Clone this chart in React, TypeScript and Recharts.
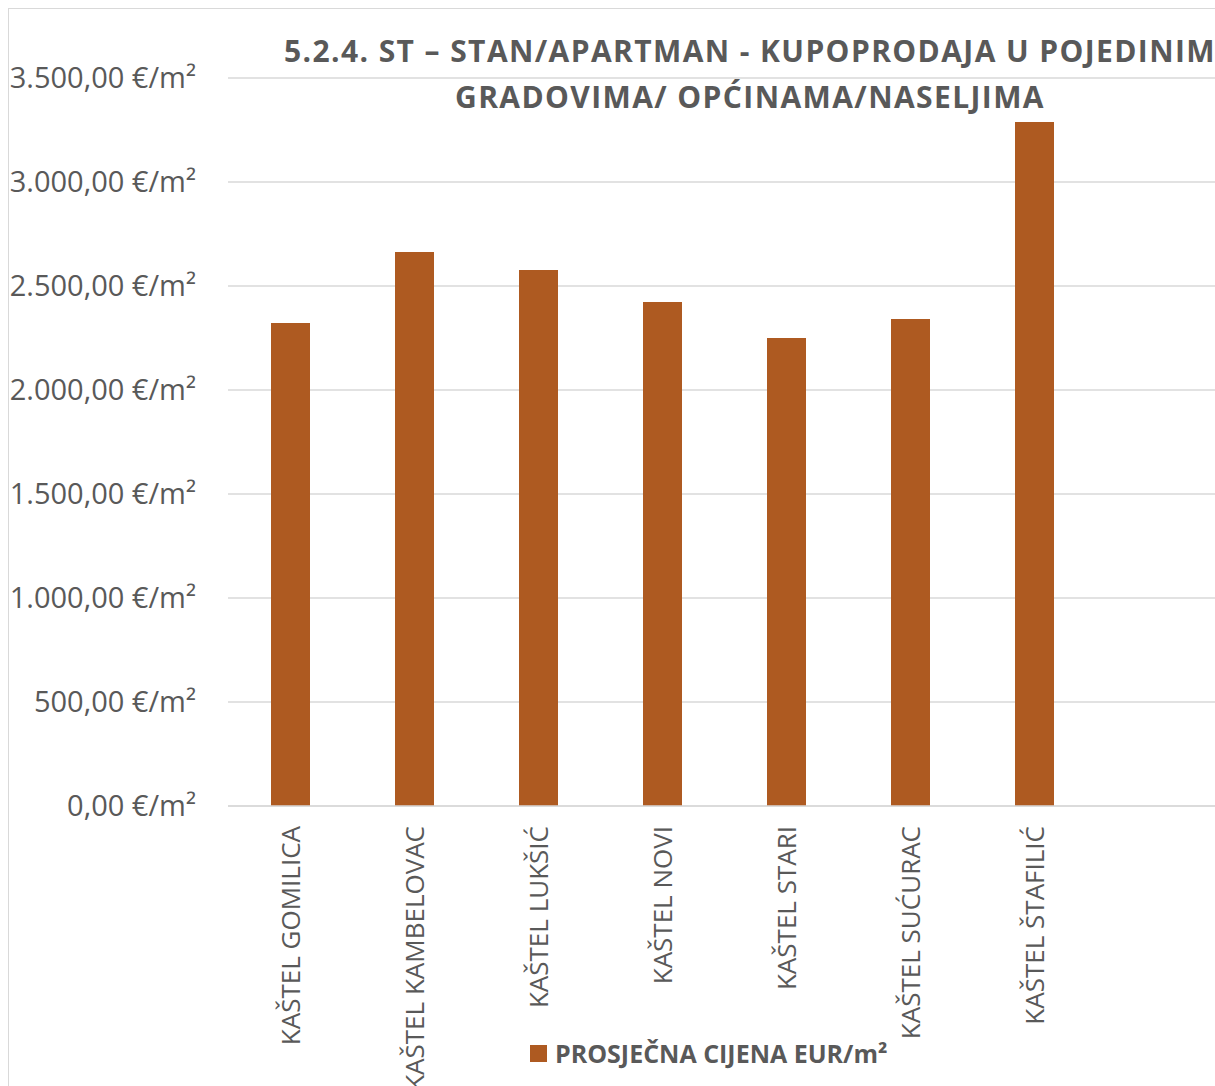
import { BarChart, Bar, XAxis, YAxis, CartesianGrid, Legend } from 'recharts';

const CATEGORIES = [
  'KAŠTEL GOMILICA',
  'KAŠTEL KAMBELOVAC',
  'KAŠTEL LUKŠIĆ',
  'KAŠTEL NOVI',
  'KAŠTEL STARI',
  'KAŠTEL SUĆURAC',
  'KAŠTEL ŠTAFILIĆ',
  '',
];
const PRICES = [2322, 2663, 2577, 2423, 2250, 2341, 3288, null];
const Y_TICKS = [0, 500, 1000, 1500, 2000, 2500, 3000, 3500];
const SERIES_NAME = 'PROSJEČNA CIJENA EUR/m²';
const TITLE_LINES = ['5.2.4. ST – STAN/APARTMAN - KUPOPRODAJA U POJEDINIM', 'GRADOVIMA/ OPĆINAMA/NASELJIMA'];

const BAR_COLOR = '#AE5A21';
const TEXT_COLOR = '#595959';
const GRID_COLOR = '#d9d9d9';
const FONT = '"Open Sans", sans-serif';

const chartData = CATEGORIES.map((name, i) => ({ name, price: PRICES[i] }));

// 3500 -> "3.500,00 €/m²"
function formatEur(v: number) {
  const int = Math.floor(v).toString().replace(/\B(?=(\d{3})+(?!\d))/g, '.');
  return `${int},00 €/m²`;
}

function CategoryTick({ x, y, payload }: any) {
  if (!payload.value) return null;
  return (
    <text
      x={x}
      y={y}
      transform={`rotate(-90, ${x}, ${y})`}
      textAnchor="end"
      dominantBaseline="central"
      fill={TEXT_COLOR}
      fontSize={26}
      fontFamily={FONT}
    >
      {payload.value}
    </text>
  );
}

function LegendContent() {
  return (
    <div style={{ display: 'flex', alignItems: 'center', height: 24, fontFamily: FONT }}>
      <span style={{ width: 17, height: 17, background: BAR_COLOR, display: 'inline-block', marginRight: 8 }} />
      <span style={{ fontSize: 25, fontWeight: 700, color: TEXT_COLOR, whiteSpace: 'nowrap' }}>{SERIES_NAME}</span>
    </div>
  );
}

export default function App() {
  return (
    <div
      style={{
        position: 'fixed',
        left: 8,
        top: 8,
        width: 1207,
        height: 1078,
        overflow: 'hidden',
        borderLeft: `1px solid ${GRID_COLOR}`,
        borderTop: `1px solid ${GRID_COLOR}`,
        background: '#fff',
      }}
    >
      <div style={{ position: 'relative', width: 1230, height: 1100 }}>
        <div
          style={{
            position: 'absolute',
            left: 241,
            top: 19,
            width: 1000,
            textAlign: 'center',
            fontFamily: FONT,
            fontWeight: 700,
            fontSize: 30,
            letterSpacing: 1.4,
            lineHeight: '46px',
            color: TEXT_COLOR,
            whiteSpace: 'nowrap',
            zIndex: 1,
          }}
        >
          {TITLE_LINES.map((l) => (
            <div key={l}>{l}</div>
          ))}
        </div>
        <BarChart width={1230} height={1100} data={chartData} margin={{ top: 69, right: 19, bottom: 0, left: 0 }}>
          <CartesianGrid vertical={false} stroke={GRID_COLOR} strokeWidth={1.3} />
          <XAxis
            dataKey="name"
            interval={0}
            height={303}
            axisLine={{ stroke: GRID_COLOR, strokeWidth: 1.3 }}
            tickLine={false}
            tickSize={0}
            tickMargin={20}
            tick={<CategoryTick />}
          />
          <YAxis
            width={219}
            domain={[0, 3500]}
            ticks={Y_TICKS}
            axisLine={false}
            tickLine={false}
            tickSize={0}
            tickMargin={32}
            tickFormatter={formatEur}
            tick={{ fill: TEXT_COLOR, fontSize: 29, fontFamily: FONT }}
          />
          <Legend
            verticalAlign="middle"
            align="center"
            wrapperStyle={{ top: 1032, left: 521 }}
            content={<LegendContent />}
          />
          <Bar dataKey="price" name={SERIES_NAME} fill={BAR_COLOR} barSize={39} isAnimationActive={false} />
        </BarChart>
      </div>
    </div>
  );
}
